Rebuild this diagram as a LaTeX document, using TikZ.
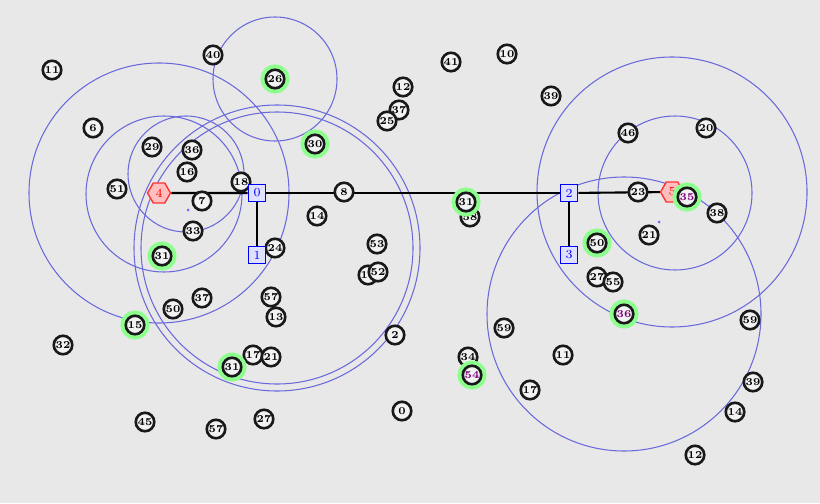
\documentclass[tikz,border=0pt]{standalone}
\usetikzlibrary{shapes.geometric,backgrounds}
\definecolor{bgc}{RGB}{232,232,232}
\definecolor{ringc}{RGB}{105,105,220}
\begin{document}
\begin{tikzpicture}[x=0.02cm, y=-0.02cm,
    host/.style={circle, draw=black!90, fill=gray!10, line width=1.5pt, minimum size=0.37cm, inner sep=0pt, font=\fontsize{6}{6}\selectfont\bfseries},
    lit/.style={host, preaction={draw=green!45, line width=6pt}},
    router/.style={draw=blue, fill=blue!12, text=blue, line width=1pt, minimum size=0.34cm, inner sep=0pt, font=\scriptsize},
    sink/.style={regular polygon, regular polygon sides=6, draw=red!80, fill=red!25, text=red, minimum size=0.46cm, inner sep=0pt, line width=0.8pt, font=\scriptsize},
    reach/.style={draw=ringc, line width=0.6pt},
    link/.style={line width=1.2pt}]
    \useasboundingbox (0,0) rectangle (820,503);

    \node[sink] (H4) at (159,193) {4};
    \node[sink] (H5) at (672,192) {5};

    \node[host] (n1) at (52,70) {11};
    \node[host] (n2) at (213,55) {40};
    \node[host] (n3) at (93,128) {6};
    \node[host] (n4) at (152,147) {29};
    \node[host] (n5) at (192,150) {36};
    \node[host] (n6) at (187,172) {16};
    \node[host] (n7) at (117,189) {51};
    \node[host] (n8) at (202,201) {7};
    \node[host] (n9) at (241,182) {18};
    \node[host] (n10) at (193,231) {33};
    \node[host] (n11) at (403,87) {12};
    \node[host] (n12) at (399,110) {37};
    \node[host] (n13) at (387,121) {25};
    \node[host] (n14) at (451,62) {41};
    \node[host] (n15) at (507,54) {10};
    \node[host] (n16) at (551,96) {39};
    \node[host] (n17) at (344,192) {8};
    \node[host] (n18) at (317,216) {14};
    \node[host] (n19) at (275,248) {24};
    \node[host] (n20) at (377,244) {53};
    \node[host] (n21) at (368,275) {19};
    \node[host] (n22) at (378,272) {52};
    \node[host] (n23) at (470,217) {58};
    \node[host] (n24) at (597,277) {27};
    \node[host] (n25) at (613,282) {55};
    \node[host] (n26) at (638,192) {23};
    \node[host] (n27) at (717,213) {38};
    \node[host] (n28) at (649,235) {21};
    \node[host] (n29) at (628,133) {46};
    \node[host] (n30) at (706,128) {20};
    \node[host] (n31) at (750,320) {59};
    \node[host] (n32) at (63,345) {32};
    \node[host] (n33) at (173,309) {50};
    \node[host] (n34) at (202,298) {37};
    \node[host] (n35) at (271,297) {57};
    \node[host] (n36) at (276,317) {13};
    \node[host] (n37) at (395,335) {2};
    \node[host] (n38) at (504,328) {59};
    \node[host] (n39) at (468,357) {34};
    \node[host] (n40) at (563,355) {11};
    \node[host] (n41) at (530,390) {17};
    \node[host] (n42) at (253,355) {17};
    \node[host] (n43) at (271,357) {21};
    \node[host] (n44) at (402,411) {0};
    \node[host] (n45) at (264,419) {27};
    \node[host] (n46) at (145,422) {45};
    \node[host] (n47) at (216,429) {57};
    \node[host] (n48) at (753,382) {39};
    \node[host] (n49) at (735,412) {14};
    \node[host] (n50) at (695,455) {12};

    \node[lit] (g1) at (275,79) {26};
    \node[lit] (g2) at (315,144) {30};
    \node[lit] (g3) at (162,256) {31};
    \node[lit] (g4) at (135,325) {15};
    \node[lit] (g5) at (232,367) {31};
    \node[lit] (g6) at (466,202) {31};
    \node[lit] (g7) at (597,243) {50};
    \node[lit, text=violet] (g8) at (687,197) {35};
    \node[lit, text=violet] (g9) at (624,314) {36};
    \node[lit, text=violet] (g10) at (472,375) {54};

    \node[router] (S0) at (257,193) {0};
    \node[router] (S1) at (257,255) {1};
    \node[router] (S2) at (569,193) {2};
    \node[router] (S3) at (569,255) {3};

    \begin{scope}[on background layer]
    \fill[bgc] (0,0) rectangle (820,503);
    \draw[reach] (H4) circle (130);
    \draw[reach] (164,194) circle (78);
    \draw[reach] (186,174) circle (58);
    \draw[reach] (277,248) circle (143);
    \draw[reach] (277,248) circle (136);
    \draw[reach] (g1) circle (62);
    \draw[reach] (H5) circle (135);
    \draw[reach] (675,193) circle (77);
    \draw[reach] (g9) circle (137);
    \fill[blue!60] (659,222) circle (1.5);
    \fill[blue!60] (188,210) circle (1.5);

    \draw[link] (H4) edge (S0);
    \draw[link] (S0) edge (S2);
    \draw[link] (S0) edge (S1);
    \draw[link] (S2) edge (S3);
    \draw[link] (S2) edge (H5);
    \end{scope}
\end{tikzpicture}
\end{document}
